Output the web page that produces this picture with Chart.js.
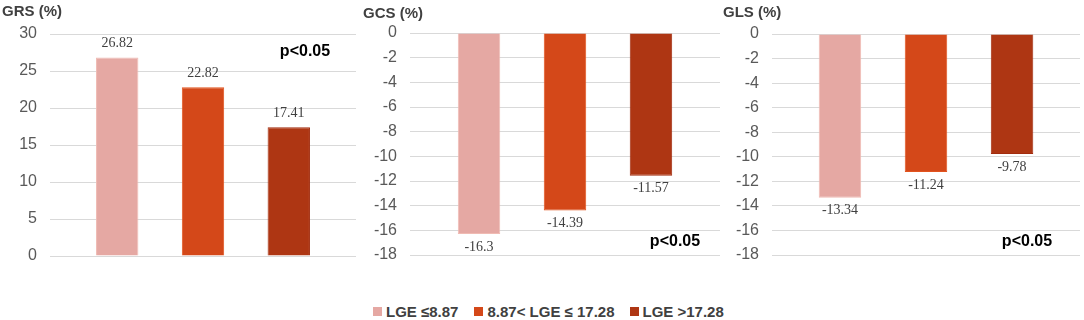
<!DOCTYPE html>
<html>
<head>
<meta charset="utf-8">
<script src="https://cdn.jsdelivr.net/npm/chart.js@4.4.1/dist/chart.umd.min.js"></script>
<style>
  html, body { margin: 0; padding: 0; background: #ffffff; }
  #wrap { position: relative; width: 1084px; height: 320px; overflow: hidden; background: #fff; }
  canvas { position: absolute; top: 0; }
  #legend { position: absolute; left: 373px; top: 303px; display: flex; align-items: center;
            font-family: "Liberation Sans", Arial, sans-serif; font-weight: bold; font-size: 15px; color: #404040; white-space: nowrap; }
  .item { display: flex; align-items: center; }
  .sw { width: 9px; height: 9px; margin-right: 4px; }
</style>
</head>
<body>
<div id="wrap">
  <canvas id="c1" width="360" height="280" style="left:0px"></canvas>
  <canvas id="c2" width="360" height="280" style="left:360px"></canvas>
  <canvas id="c3" width="364" height="280" style="left:720px"></canvas>
  <div id="legend"></div>
</div>
<script>
// ---- data ----
const categories = ['LGE \u22648.87', '8.87< LGE \u2264 17.28', 'LGE >17.28'];
const grsValues = [26.82, 22.82, 17.41];
const gcsValues = [-16.3, -14.39, -11.57];
const glsValues = [-13.34, -11.24, -9.78];
const grsTicks = { min: 0, max: 30, step: 5 };
const strainTicks = { min: -18, max: 0, step: 2 };
const panelTitles = ['GRS (%)', 'GCS (%)', 'GLS (%)'];
const pText = 'p<0.05';

// ---- styles ----
const fills = ['#E5A8A3', '#D44819', '#AE3613'];
const borders = ['#F0BBB3', '#E2531E', '#A22C0E'];
const legendGaps = [0, 16, 15];

const panels = [
  { id: 'c1', values: grsValues, ticks: grsTicks, title: panelTitles[0], yWidth: 50,
    pad: { top: 34, bottom: 24, right: 4, left: 0 }, cp: 0.841,
    titlePos: [2, 16], pPos: [305, 56] },
  { id: 'c2', values: gcsValues, ticks: strainTicks, title: panelTitles[1], yWidth: 50,
    pad: { top: 33, bottom: 25, right: 0, left: 0 }, cp: 0.832,
    titlePos: [3, 18], pPos: [315, 246] },
  { id: 'c3', values: glsValues, ticks: strainTicks, title: panelTitles[2], yWidth: 52,
    pad: { top: 34, bottom: 25, right: 4, left: 0 }, cp: 0.838,
    titlePos: [3, 17], pPos: [307, 246] }
];

const annotate = {
  id: 'annotate',
  afterDatasetsDraw(chart, args, opts) {
    const ctx = chart.ctx;
    ctx.save();
    // data labels
    ctx.font = '14px "Liberation Serif", "Times New Roman", serif';
    ctx.fillStyle = '#404040';
    ctx.textAlign = 'center';
    ctx.textBaseline = 'middle';
    chart.data.datasets.forEach((ds, i) => {
      const el = chart.getDatasetMeta(i).data[0];
      const v = ds.data[0];
      const y = v >= 0 ? el.y - 14 : el.y + 13;
      ctx.fillText(String(v), el.x, y);
    });
    // title
    ctx.font = 'bold 15px "Liberation Sans", Arial, sans-serif';
    ctx.fillStyle = '#404040';
    ctx.textAlign = 'left';
    ctx.textBaseline = 'alphabetic';
    ctx.fillText(opts.title, opts.titlePos[0], opts.titlePos[1]);
    // p value
    ctx.font = 'bold 16px "Liberation Sans", Arial, sans-serif';
    ctx.fillStyle = '#000000';
    ctx.textAlign = 'center';
    ctx.fillText(pText, opts.pPos[0], opts.pPos[1]);
    ctx.restore();
  }
};

panels.forEach(p => {
  new Chart(document.getElementById(p.id), {
    type: 'bar',
    data: {
      labels: [''],
      datasets: categories.map((c, i) => ({
        label: c,
        data: [p.values[i]],
        backgroundColor: fills[i],
        borderColor: borders[i],
        borderWidth: 1,
        categoryPercentage: p.cp,
        barPercentage: 0.494
      }))
    },
    options: {
      responsive: false,
      animation: false,
      devicePixelRatio: 1,
      layout: { padding: p.pad },
      plugins: {
        legend: { display: false },
        tooltip: { enabled: false },
        annotate: { title: p.title, titlePos: p.titlePos, pPos: p.pPos }
      },
      scales: {
        x: { display: false },
        y: {
          min: p.ticks.min, max: p.ticks.max,
          ticks: { stepSize: p.ticks.step, color: '#595959', padding: 13,
                   font: { family: '"Liberation Sans", Arial, sans-serif', size: 16 } },
          grid: { color: '#D9D9D9', lineWidth: 1, drawTicks: false },
          border: { display: false },
          afterFit(scale) { scale.width = p.yWidth; }
        }
      }
    },
    plugins: [annotate]
  });
});

// legend (HTML, real text)
const lg = document.getElementById('legend');
categories.forEach((c, i) => {
  const item = document.createElement('div');
  item.className = 'item';
  item.style.marginLeft = legendGaps[i] + 'px';
  const sw = document.createElement('span');
  sw.className = 'sw';
  sw.style.background = fills[i];
  const tx = document.createElement('span');
  tx.textContent = c;
  item.appendChild(sw);
  item.appendChild(tx);
  lg.appendChild(item);
});
</script>
</body>
</html>
